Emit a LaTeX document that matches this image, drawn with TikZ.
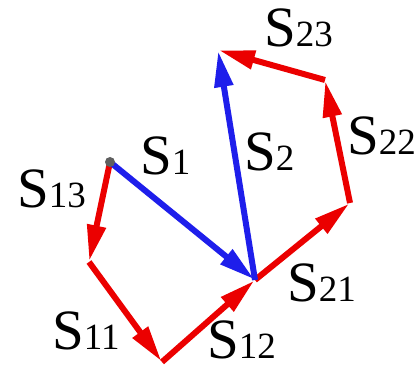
\documentclass[tikz,border=0pt]{standalone}
\usepackage{fontspec}
\setmainfont{Liberation Serif}
\usetikzlibrary{arrows.meta}
\definecolor{vred}{RGB}{235,0,0}
\definecolor{vblue}{RGB}{30,30,235}
\definecolor{dotgray}{RGB}{95,95,95}
\newcommand\subnum[1]{{\fontsize{37pt}{37pt}\selectfont #1}}
\begin{document}
\begin{tikzpicture}[x=1pt,y=-1pt,
  pt/.style={inner sep=0pt,minimum size=0pt},
  vec/.style={line width=6pt,line cap=butt,-{Triangle[length=36pt,width=18pt]},shorten >=1pt},
  redvec/.style={vec,draw=vred,fill=vred},
  bluevec/.style={vec,draw=vblue,fill=vblue},
  lab/.style={inner sep=0pt,anchor=base west,font=\fontsize{57pt}{57pt}\selectfont}]
\useasboundingbox (0,0) rectangle (419,371);
\node[pt] (O) at (110,162) {};
\node[pt] (A) at (89,262) {};
\node[pt] (B) at (162,362) {};
\node[pt] (C) at (255,280) {};
\node[pt] (D) at (350,203) {};
\node[pt] (E) at (325,80) {};
\node[pt] (F) at (218,50) {};
% red chain
\draw[redvec] (O.center) -- (A.center);
\draw[redvec] (A.center) -- (B.center);
\draw[redvec] (B.center) -- (C.center);
\draw[redvec] (C.center) -- (D.center);
\draw[redvec] (D.center) -- (E.center);
\draw[redvec] (E.center) -- (F.center);
% blue
\draw[bluevec] (O.center) -- (C.center);
\draw[bluevec] (C.center) -- (F.center);
\fill[dotgray] (O.center) circle (5pt);
% labels
\node[lab] (l13) at (17,207) {S\subnum{13}};
\node[lab] (l1) at (140,175) {S\subnum{1}};
\node[lab] (l11) at (52,349) {S\subnum{11}};
\node[lab] (l12) at (207,358) {S\subnum{12}};
\node[lab] (l21) at (287,301) {S\subnum{21}};
\node[lab] (l2) at (244,171) {S\subnum{2}};
\node[lab] (l22) at (347,154) {S\subnum{22}};
\node[lab] (l23) at (264,47) {S\subnum{23}};
\end{tikzpicture}
\end{document}
